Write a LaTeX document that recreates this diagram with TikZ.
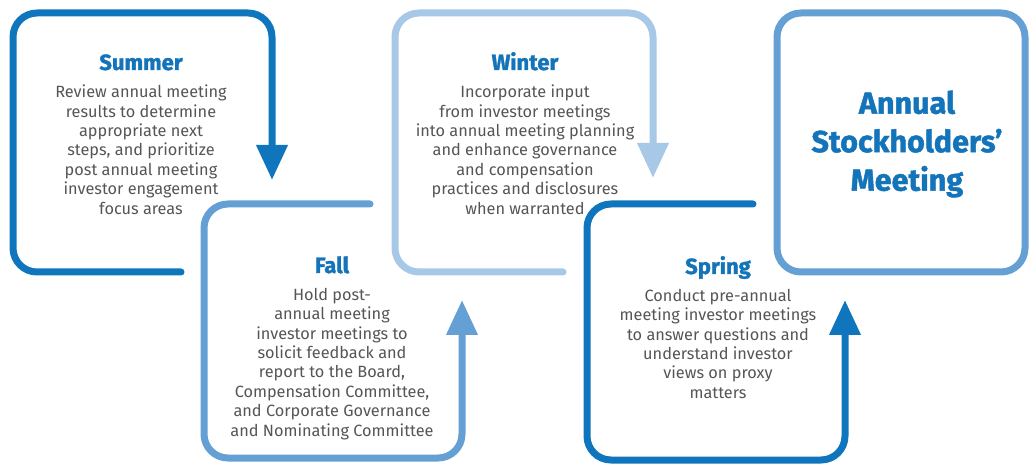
\documentclass[tikz,border=0pt]{standalone}
\usepackage{fontspec}
\setmainfont{Fira Sans}
\newfontfamily\heavyfont{Fira Sans}[BoldFeatures={FakeBold=1.5}]
\usepackage{xcolor}
\usepackage{tikz}
\usetikzlibrary{arrows.meta, positioning}
\definecolor{colDark}{RGB}{15,117,188}
\definecolor{colMid}{RGB}{100,160,212}
\definecolor{colLight}{RGB}{168,200,232}
\definecolor{colTitle}{RGB}{20,116,186}
\definecolor{colBody}{RGB}{85,85,85}

\begin{document}
\begin{tikzpicture}[x=1pt, y=-1pt, node distance=15pt,
    every node/.style={inner sep=0pt, outer sep=0pt}]
    \tikzstyle{season}=[font=\heavyfont\bfseries\fontsize{22}{24}\selectfont, text=colTitle,
      anchor=base, text depth=0pt]
    \tikzstyle{body}=[font=\fontsize{16.3}{19.4}\selectfont, text=colBody, align=center]
    \tikzstyle{frame}=[line width=7pt, line cap=round, rounded corners=24pt,
      -{Triangle[length=35pt, width=30pt]}]
    \useasboundingbox (0,0) rectangle (1029,465);
    % frames
    \draw[frame, colDark]  (181,272) -- (13,272) -- (13,13) -- (272,13) -- (272,180);
    \draw[frame, colMid]   (370,204) -- (204,204) -- (204,458) -- (462,458) -- (462,300);
    \draw[frame, colLight] (563,272) -- (395,272) -- (395,13) -- (653,13) -- (653,178);
    \draw[frame, colDark]  (753,204) -- (587,204) -- (587,460) -- (845,460) -- (845,300);
    \draw[line width=7pt, colMid, rounded corners=24pt] (777,13) rectangle (1025,272);
    % texts
    \node[season] (su) at (141,70) {Summer};
    \node[body, below=of su] (suT) {Review annual meeting\\results to determine\\appropriate next\\steps, and prioritize\\post annual meeting\\investor engagement\\focus areas};
    \node[season] (fa) at (332,273) {Fall};
    \node[body, below=of fa] (faT) {Hold post-\\annual meeting\\investor meetings to\\solicit feedback and\\report to the Board,\\Compensation Committee,\\and Corporate Governance\\and Nominating Committee};
    \node[season] (wi) at (525,70) {Winter};
    \node[body, below=of wi] (wiT) {Incorporate input\\from investor meetings\\into annual meeting planning\\and enhance governance\\and compensation\\practices and disclosures\\when warranted};
    \node[season] (sp) at (718,274) {Spring};
    \node[body, below=of sp] (spT) {Conduct pre-annual\\meeting investor meetings\\to answer questions and\\understand investor\\views on proxy\\matters};
    \node[font=\heavyfont\bfseries\fontsize{30.5}{38.5}\selectfont, text=colTitle, align=center] (asm) at (907,144) {Annual\\Stockholders’\\Meeting};
\end{tikzpicture}
\end{document}
